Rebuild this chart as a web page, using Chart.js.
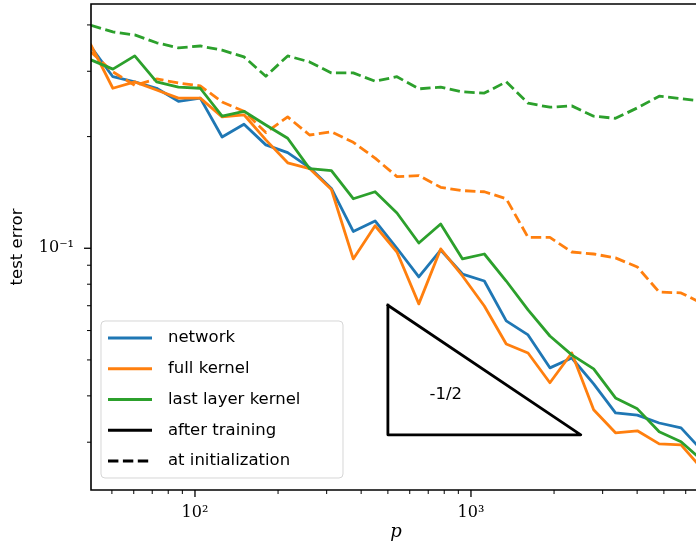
<!DOCTYPE html>
<html>
<head>
<meta charset="utf-8">
<script src="https://cdn.jsdelivr.net/npm/chart.js@4.4.1/dist/chart.umd.min.js"></script>
<style>
html,body{margin:0;padding:0;overflow:hidden;background:#fff;width:696px;height:545px}
#wrap{position:relative;width:701px;height:545px}
canvas{display:block}
</style>
</head>
<body>
<div id="wrap"><canvas id="c" width="701" height="545"></canvas></div>
<script>
// ---------------- data ----------------
const p = [42, 50.4, 60.5, 72.6, 87.1, 104.5, 125.4, 150.5, 180.6, 216.7, 260.1, 312.1, 374.5, 449.4, 539.3,
           647.2, 776.6, 931.9, 1118, 1342, 1610, 1932, 2319, 2783, 3339, 4007, 4809, 5770, 6924];
const networkErr = [0.349, 0.290, 0.281, 0.270, 0.249, 0.254, 0.1995, 0.216, 0.190, 0.181, 0.165, 0.145, 0.111, 0.1185, 0.100,
                    0.0837, 0.0989, 0.0852, 0.0816, 0.0637, 0.0584, 0.0476, 0.0506, 0.0431, 0.0360, 0.0355, 0.0338, 0.0328, 0.0283];
const fullKernelErr = [0.353, 0.270, 0.281, 0.267, 0.254, 0.254, 0.226, 0.229, 0.196, 0.170, 0.164, 0.144, 0.0936, 0.115, 0.0977,
                       0.0708, 0.0996, 0.0842, 0.0699, 0.0552, 0.0522, 0.0434, 0.0522, 0.0367, 0.0318, 0.0322, 0.0297, 0.0295, 0.0253];
const lastLayerErr = [0.322, 0.304, 0.330, 0.281, 0.272, 0.270, 0.227, 0.234, 0.215, 0.198, 0.164, 0.162, 0.136, 0.142, 0.1245,
                      0.1033, 0.1163, 0.0936, 0.0965, 0.0816, 0.0682, 0.0580, 0.0516, 0.0473, 0.0395, 0.0369, 0.0320, 0.0301, 0.0267];
const fullKernelInitErr = [0.338, 0.299, 0.275, 0.286, 0.279, 0.274, 0.248, 0.234, 0.205, 0.226, 0.202, 0.206, 0.193, 0.175, 0.156,
                           0.157, 0.146, 0.143, 0.142, 0.136, 0.107, 0.107, 0.0977, 0.0965, 0.0942, 0.0890, 0.0762, 0.0758, 0.0708];
const lastLayerInitErr = [0.399, 0.383, 0.376, 0.358, 0.347, 0.351, 0.342, 0.328, 0.291, 0.330, 0.318, 0.297, 0.297, 0.282, 0.290,
                          0.269, 0.272, 0.264, 0.262, 0.281, 0.246, 0.240, 0.242, 0.227, 0.224, 0.239, 0.257, 0.253, 0.249];
const triangleX = [500, 500, 2500, 500];
const triangleY = [0.0702, 0.0314, 0.0314, 0.0702];
const slopeText = '-1/2';
const slopeTextX = 811, slopeTextY = 0.0402;
const xLimits = [42, 6815];
const yLimits = [0.0223, 0.4555];
const legendLabels = ['network', 'full kernel', 'last layer kernel', 'after training', 'at initialization'];
const xTitle = 'p';
const yTitle = 'test error';

// ---------------- styles ----------------
const BLUE = '#1f77b4', ORANGE = '#ff7f0e', GREEN = '#2ca02c', BLACK = '#000000';
const LW = 2.8, DASH = [10.4, 4.5];
const legendStyles = [
  {color: BLUE, dash: []}, {color: ORANGE, dash: []}, {color: GREEN, dash: []},
  {color: BLACK, dash: []}, {color: BLACK, dash: DASH}
];

const pts = (xs, ys) => xs.map((x, i) => ({x: x, y: ys[i]}));
function ds(label, xs, ys, color, dashed, order) {
  return {label, data: pts(xs, ys), borderColor: color, backgroundColor: color, borderWidth: LW,
    borderDash: dashed ? DASH : [], pointRadius: 0, pointHoverRadius: 0, tension: 0, fill: false, order,
    borderJoinStyle: 'round', borderCapStyle: dashed ? 'butt' : 'square'};
}

const SUP = {'-': '\u207B', '0': '\u2070', '1': '\u00B9', '2': '\u00B2', '3': '\u00B3', '4': '\u2074',
             '5': '\u2075', '6': '\u2076', '7': '\u2077', '8': '\u2078', '9': '\u2079'};
const sup = n => String(n).split('').map(c => SUP[c]).join('');
function decadeLabel(v) {
  const e = Math.log10(v), r = Math.round(e);
  return Math.abs(e - r) < 1e-6 ? '10' + sup(r) : '';
}
function isDecade(v) { const e = Math.log10(v); return Math.abs(e - Math.round(e)) < 1e-6; }
function zeroPad(s) { s.paddingTop = 0; s.paddingBottom = 0; s.paddingLeft = 0; s.paddingRight = 0; }

const tickFont = {family: '"DejaVu Serif", serif', size: 16};

const decor = {
  id: 'decor',
  afterDatasetsDraw(chart) {
    const {ctx, chartArea: a, scales: {x, y}} = chart;
    ctx.save();
    ctx.strokeStyle = '#000';
    ctx.setLineDash([]);
    // spines
    ctx.lineWidth = 1.6;
    ctx.beginPath();
    ctx.moveTo(chart.width + 2, a.top); ctx.lineTo(a.left, a.top); ctx.lineTo(a.left, a.bottom); ctx.lineTo(chart.width + 2, a.bottom);
    ctx.stroke();
    // x ticks
    for (let e = 1; e <= 4; e++) for (let m = 1; m <= 9; m++) {
      const v = m * Math.pow(10, e);
      if (v < xLimits[0] || v > xLimits[1]) continue;
      const px = x.getPixelForValue(v);
      const major = isDecade(v);
      ctx.lineWidth = major ? 1.3 : 1;
      ctx.beginPath(); ctx.moveTo(px, a.bottom); ctx.lineTo(px, a.bottom + (major ? 7 : 4)); ctx.stroke();
    }
    // y ticks
    for (let e = -2; e <= 0; e++) for (let m = 1; m <= 9; m++) {
      const v = m * Math.pow(10, e);
      if (v < yLimits[0] || v > yLimits[1]) continue;
      const py = y.getPixelForValue(v);
      const major = isDecade(v);
      ctx.lineWidth = major ? 1.3 : 1;
      ctx.beginPath(); ctx.moveTo(a.left, py); ctx.lineTo(a.left - (major ? 7 : 4), py); ctx.stroke();
    }
    // slope label
    ctx.fillStyle = '#000';
    ctx.font = '16.5px "DejaVu Sans"';
    ctx.textAlign = 'center';
    ctx.textBaseline = 'middle';
    ctx.fillText(slopeText, x.getPixelForValue(slopeTextX), y.getPixelForValue(slopeTextY));
    // legend
    const bx = 101, by = 321, bw = 242, bh = 157, r = 4;
    ctx.beginPath();
    ctx.moveTo(bx + r, by); ctx.lineTo(bx + bw - r, by); ctx.arcTo(bx + bw, by, bx + bw, by + r, r);
    ctx.lineTo(bx + bw, by + bh - r); ctx.arcTo(bx + bw, by + bh, bx + bw - r, by + bh, r);
    ctx.lineTo(bx + r, by + bh); ctx.arcTo(bx, by + bh, bx, by + bh - r, r);
    ctx.lineTo(bx, by + r); ctx.arcTo(bx, by, bx + r, by, r);
    ctx.closePath();
    ctx.fillStyle = 'rgba(255,255,255,0.8)';
    ctx.fill();
    ctx.lineWidth = 1;
    ctx.strokeStyle = 'rgba(204,204,204,0.8)';
    ctx.stroke();
    ctx.textAlign = 'left';
    for (let i = 0; i < legendLabels.length; i++) {
      const ry = 338 + i * 30.75;
      const st = legendStyles[i];
      ctx.strokeStyle = st.color;
      ctx.lineWidth = LW;
      ctx.setLineDash(st.dash);
      ctx.lineCap = st.dash.length ? 'butt' : 'butt';
      ctx.beginPath(); ctx.moveTo(108, ry); ctx.lineTo(152, ry); ctx.stroke();
      ctx.setLineDash([]);
      ctx.fillStyle = '#000';
      ctx.fillText(legendLabels[i], 168, ry);
    }
    ctx.restore();
  }
};

Chart.defaults.font.family = '"DejaVu Sans", sans-serif';
Chart.defaults.color = '#000';

new Chart(document.getElementById('c'), {
  type: 'line',
  data: {
    datasets: [
      ds('triangle', triangleX, triangleY, BLACK, false, 0),
      ds('last layer kernel', p, lastLayerErr, GREEN, false, 1),
      ds('last layer kernel (init)', p, lastLayerInitErr, GREEN, true, 2),
      ds('full kernel', p, fullKernelErr, ORANGE, false, 3),
      ds('full kernel (init)', p, fullKernelInitErr, ORANGE, true, 4),
      ds('network', p, networkErr, BLUE, false, 5)
    ]
  },
  options: {
    responsive: false,
    animation: false,
    events: [],
    layout: {padding: {top: 4, right: 0, bottom: 0, left: 0}},
    plugins: {legend: {display: false}, tooltip: {enabled: false}},
    scales: {
      x: {
        type: 'logarithmic', position: 'bottom', min: xLimits[0], max: xLimits[1],
        afterFit: s => { s.height = 55; zeroPad(s); },
        grid: {display: true, drawOnChartArea: false, drawTicks: false},
        border: {display: false},
        ticks: {autoSkip: false, maxRotation: 0, minRotation: 0, padding: 13, color: '#000', font: tickFont,
                callback: v => decadeLabel(v)},
        title: {display: true, text: xTitle, color: '#000',
                font: {family: '"DejaVu Serif", serif', style: 'italic', size: 18}, padding: {top: 0, bottom: 2}}
      },
      y: {
        type: 'logarithmic', position: 'left', min: yLimits[0], max: yLimits[1],
        afterFit: s => { s.width = 91; zeroPad(s); },
        grid: {display: true, drawOnChartArea: false, drawTicks: false},
        border: {display: false},
        ticks: {autoSkip: false, padding: 17, color: '#000', font: tickFont, callback: v => decadeLabel(v)},
        title: {display: true, text: yTitle, color: '#000',
                font: {family: '"DejaVu Sans", sans-serif', size: 16.5}, padding: {top: 8, bottom: 0}}
      }
    }
  },
  plugins: [decor]
});
</script>
</body>
</html>
